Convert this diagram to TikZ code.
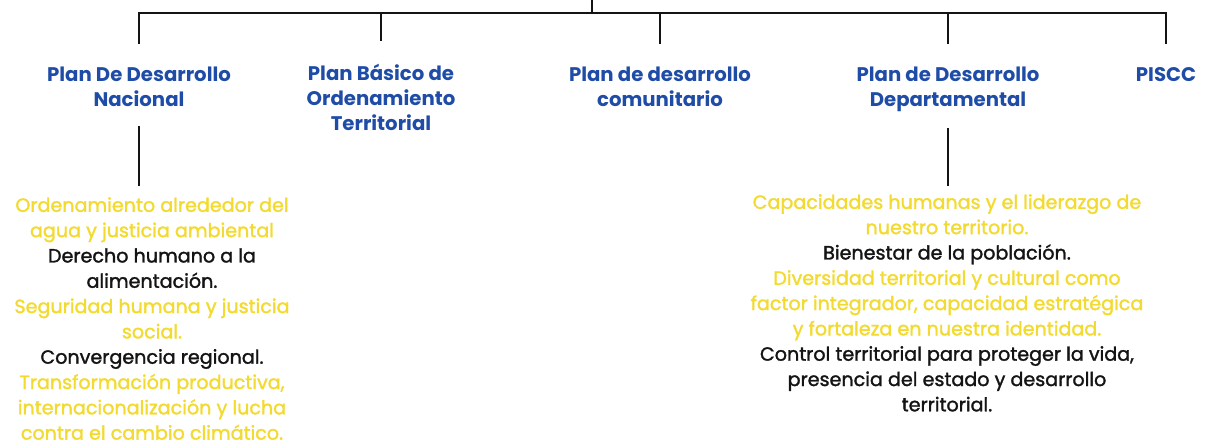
\documentclass[tikz,border=0pt]{standalone}
\usepackage{fontspec}
\setmainfont{Poppins}
\newfontfamily\medfont{Poppins}[RawFeature={embolden=1.6}]
\usepackage{tikz}
\usetikzlibrary{calc}
\definecolor{azul}{RGB}{30,76,166}
\definecolor{amarillo}{RGB}{242,218,48}
\definecolor{negro}{RGB}{20,20,20}
\def\amar#1{\textcolor{amarillo}{#1}}
\def\negr#1{\textcolor{negro}{#1}}
\tikzset{
  rama/.style={line width=1.8pt, color=negro, line cap=rect},
  titulo/.style={font=\bfseries\fontsize{14}{17.8}\selectfont, text=azul, align=center, inner sep=0pt, anchor=north},
  cuerpo/.style={font=\medfont\fontsize{13.6}{18}\selectfont, align=center, inner sep=0pt, anchor=north}
}

\begin{document}
\begin{tikzpicture}[x=0.025cm, y=-0.025cm]
			%%%%% START %%%%%
			\useasboundingbox (0,0) rectangle (1206,446);
			
			\coordinate (root) at (592,0);
			\coordinate (hub) at (592,13);
			
			\node[titulo] (nac) at (139,67) {Plan De Desarrollo\\Nacional};
			\node[titulo] (pbot) at (381,64) {Plan B\'asico de\\Ordenamiento\\Territorial};
			\node[titulo] (com) at (660,67) {Plan de desarrollo\\comunitario};
			\node[titulo] (dep) at (948,67) {Plan de Desarrollo\\Departamental};
			\node[titulo] (piscc) at (1166,67) {PISCC};
			
			\draw[rama] (root) -- (hub);
			\draw[rama] (nac.north |- hub) -- (piscc.north |- hub);
			\foreach \n in {nac,pbot,com,dep,piscc}
				\draw[rama, shorten >=0.6cm] (\n.north |- hub) -- (\n.north);
			
			\node[cuerpo] (nacbody) at (152,197) {%
				\amar{Ordenamiento alrededor del}\\
				\amar{agua y justicia ambiental}\\
				\negr{Derecho humano a la}\\
				\negr{alimentaci\'on.}\\
				\amar{Seguridad humana y justicia}\\
				\amar{social.}\\
				\negr{Convergencia regional.}\\
				\amar{Transformaci\'on productiva,}\\
				\amar{internacionalizaci\'on y lucha}\\
				\amar{contra el cambio clim\'atico.}};
			
			\node[cuerpo] (depbody) at (947,194) {%
				\amar{Capacidades humanas y el liderazgo de}\\
				\amar{nuestro territorio.}\\
				\negr{Bienestar de la poblaci\'on.}\\
				\amar{Diversidad territorial y cultural como}\\
				\amar{factor integrador, capacidad estrat\'egica}\\
				\amar{y fortaleza en nuestra identidad.}\\
				\negr{Control territorial para proteger la vida,}\\
				\negr{presencia del estado y desarrollo}\\
				\negr{territorial.}};
			
			\draw[rama, shorten <=0.5cm, shorten >=0.3cm] (nac.south) -- (nac.south |- nacbody.north);
			\draw[rama, shorten <=0.43cm, shorten >=0.22cm] (dep.south) -- (dep.south |- depbody.north);
			%%%%% END %%%%%
\end{tikzpicture}
\end{document}
